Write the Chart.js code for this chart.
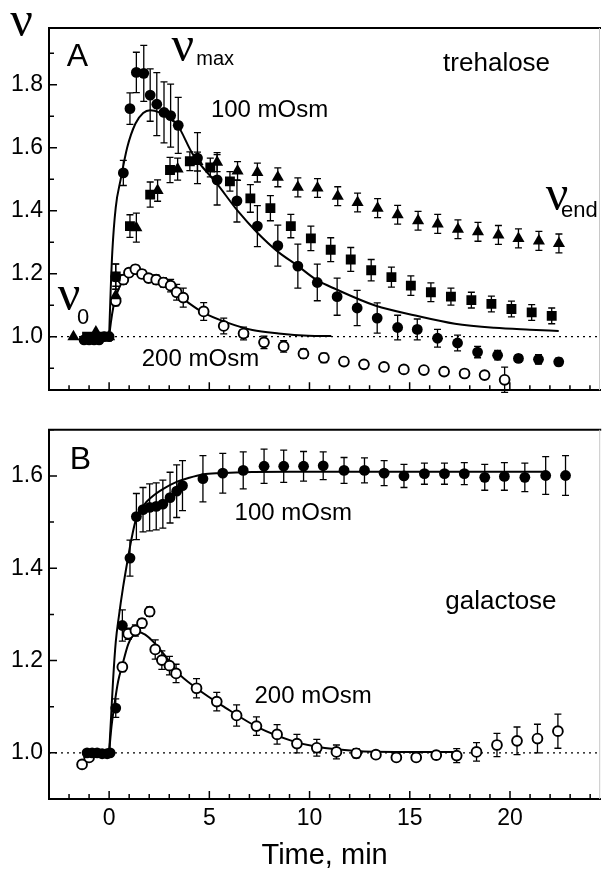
<!DOCTYPE html>
<html>
<head>
<meta charset="utf-8">
<script src="https://cdn.jsdelivr.net/npm/chart.js@4.4.0/dist/chart.umd.min.js"></script>
<style>
  html, body { margin: 0; padding: 0; background: #fff; }
  #wrap { position: relative; width: 607px; height: 875px; }
  canvas { position: absolute; left: 0; }
  #panelA { top: 0; }
  #panelB { top: 410px; }
</style>
</head>
<body>
<div id="wrap">
  <canvas id="panelA" width="607" height="410"></canvas>
  <canvas id="panelB" width="607" height="465"></canvas>
</div>
<script>
// axes
const xRange = [-3, 24.5]
const xTicks = [0, 5, 10, 15, 20]
const yRangeA = [0.83, 1.98]
const yTicksA = [1.0, 1.2, 1.4, 1.6, 1.8]
const yRangeB = [0.9, 1.7]
const yTicksB = [1.0, 1.2, 1.4, 1.6]
const refT = [-3, 24.5]
const refV = [1, 1]

// A: trehalose, 100 mOsm (filled circles)
const treh100T = [-1.25, -1.0, -0.75, -0.5, -0.25, 0, 0.33, 0.71, 1.04, 1.36, 1.73, 2.05, 2.38, 2.74, 3.07, 3.45,
  4.41, 5.39, 6.38, 7.40, 8.42, 9.42, 10.39, 11.38, 12.38, 13.38, 14.40, 15.38, 16.39, 17.39, 18.39, 19.39, 20.43, 21.43, 22.44]
const treh100V = [0.99, 0.99, 0.99, 0.99, 1.0, 1.0, 1.19, 1.52, 1.724, 1.839, 1.836, 1.767, 1.738, 1.712, 1.702, 1.671,
  1.567, 1.498, 1.431, 1.351, 1.289, 1.224, 1.172, 1.127, 1.091, 1.059, 1.029, 1.023, 0.995, 0.980, 0.951, 0.941, 0.931, 0.928, 0.920]
const treh100E = [0, 0, 0, 0, 0, 0, 0.04, 0.04, 0.05, 0.064, 0.089, 0.083, 0.10, 0.097, 0.10, 0.089,
  0.081, 0.08, 0.067, 0.065, 0.065, 0.07, 0.058, 0.059, 0.056, 0.048, 0.039, 0.033, 0.028, 0.025, 0.018, 0.015, 0.012, 0.015, 0.012]

// A: squares
const trehSqT = [-1.1, -0.6, -0.1, 0.33, 1.04, 2.05, 3.04, 4.03, 5.05, 6.03, 7.05, 8.05, 9.07, 10.07, 11.06, 12.06,
  13.08, 14.09, 15.06, 16.06, 17.06, 18.08, 19.08, 20.08, 21.09, 22.09]
const trehSqV = [1.0, 1.0, 1.0, 1.191, 1.351, 1.451, 1.529, 1.557, 1.537, 1.493, 1.439, 1.408, 1.351, 1.312, 1.276, 1.245,
  1.211, 1.189, 1.162, 1.141, 1.127, 1.116, 1.104, 1.088, 1.077, 1.066]
const trehSqE = [0, 0, 0, 0.04, 0.036, 0.04, 0.04, 0.03, 0.03, 0.031, 0.044, 0.04, 0.037, 0.039, 0.038, 0.038,
  0.034, 0.032, 0.031, 0.03, 0.027, 0.025, 0.025, 0.025, 0.025, 0.025]

// A: triangles
const trehTriT = [-1.78, -0.66, 0, 0.33, 1.36, 2.42, 3.42, 4.41, 5.39, 6.41, 7.40, 8.42, 9.42, 10.40, 11.41, 12.40,
  13.40, 14.40, 15.42, 16.40, 17.41, 18.41, 19.43, 20.43, 21.45, 22.45]
const trehTriV = [1.0, 1.015, 1.0, 1.13, 1.346, 1.464, 1.532, 1.556, 1.554, 1.526, 1.521, 1.506, 1.474, 1.472, 1.446, 1.426,
  1.408, 1.387, 1.368, 1.358, 1.341, 1.333, 1.323, 1.312, 1.304, 1.296]
const trehTriE = [0, 0, 0, 0.03, 0.046, 0.034, 0.035, 0.03, 0.03, 0.03, 0.03, 0.03, 0.03, 0.03, 0.03, 0.03,
  0.03, 0.03, 0.03, 0.03, 0.03, 0.03, 0.03, 0.03, 0.03, 0.03]

// A: trehalose, 200 mOsm (open circles)
const treh200T = [0.33, 0.71, 0.99, 1.31, 1.64, 1.97, 2.35, 2.71, 3.07, 3.37, 3.70, 4.72, 5.72, 6.71, 7.73, 8.71,
  9.70, 10.72, 11.72, 12.72, 13.72, 14.71, 15.71, 16.72, 17.74, 18.74, 19.74]
const treh200V = [1.113, 1.181, 1.203, 1.214, 1.199, 1.186, 1.181, 1.172, 1.162, 1.141, 1.124, 1.080, 1.034, 1.010, 0.982, 0.969,
  0.946, 0.933, 0.921, 0.912, 0.904, 0.896, 0.894, 0.889, 0.883, 0.878, 0.863]
const treh200E = [0.015, 0.015, 0.012, 0.012, 0.012, 0.012, 0.015, 0.015, 0.02, 0.025, 0.03, 0.028, 0.025, 0.02, 0.02, 0.018,
  0.015, 0.015, 0.012, 0.01, 0.01, 0.008, 0.008, 0.008, 0.008, 0.008, 0.04]

// A: fitted curves
const fitA100T = [0, 0.08, 0.16, 0.33, 0.58, 0.90, 1.31, 1.7, 2.05, 2.5, 3.0, 3.37, 4.19, 5.39, 6.41, 7.40, 8.42,
  9.37, 10.36, 11.34, 13.31, 15.29, 17.26, 19.23, 21.0, 22.44]
const fitA100V = [1.0, 1.15, 1.27, 1.41, 1.50, 1.60, 1.676, 1.71, 1.719, 1.712, 1.692, 1.676, 1.578, 1.485, 1.40, 1.33, 1.27,
  1.227, 1.18, 1.150, 1.098, 1.067, 1.041, 1.028, 1.022, 1.018]
const fitA200T = [0, 0.1, 0.2, 0.33, 0.5, 0.74, 1.0, 1.31, 1.9, 2.55, 3.1, 3.70, 4.68, 5.83, 7.15, 8.46, 9.94, 11.09]
const fitA200V = [1.0, 1.05, 1.09, 1.125, 1.155, 1.181, 1.195, 1.201, 1.195, 1.17, 1.145, 1.119, 1.077, 1.046, 1.021, 1.010, 1.003, 1.002]

// B: galactose, 100 mOsm (filled circles)
const gal100T = [-1.1, -0.85, -0.6, -0.35, -0.1, 0.05, 0.33, 0.66, 1.04, 1.36, 1.69, 2.02, 2.35, 2.68, 3.04, 3.37, 3.66,
  4.68, 5.67, 6.69, 7.73, 8.71, 9.70, 10.68, 11.72, 12.74, 13.72, 14.71, 15.73, 16.73, 17.72, 18.74, 19.72, 20.74, 21.78, 22.77]
const gal100V = [1.0, 1.0, 1.0, 0.998, 0.998, 1.0, 1.097, 1.276, 1.422, 1.512, 1.527, 1.532, 1.534, 1.539, 1.553, 1.567, 1.579,
  1.594, 1.606, 1.612, 1.621, 1.621, 1.621, 1.622, 1.612, 1.612, 1.606, 1.600, 1.605, 1.605, 1.605, 1.597, 1.599, 1.597, 1.601, 1.601]
const gal100E = [0, 0, 0, 0, 0, 0, 0.02, 0.034, 0.039, 0.05, 0.048, 0.051, 0.051, 0.052, 0.055, 0.057, 0.054,
  0.05, 0.043, 0.04, 0.037, 0.035, 0.032, 0.03, 0.028, 0.027, 0.027, 0.025, 0.023, 0.023, 0.024, 0.028, 0.03, 0.031, 0.041, 0.043]

// B: galactose, 200 mOsm (open circles)
const gal200T = [-1.35, -1.0, 0.66, 0.95, 1.31, 1.64, 2.02, 2.30, 2.63, 3.01, 3.34, 4.36, 5.37, 6.36, 7.35, 8.38,
  9.37, 10.36, 11.34, 12.33, 13.31, 14.33, 15.32, 16.32, 17.34, 18.33, 19.35, 20.35, 21.37, 22.39]
const gal200V = [0.975, 0.99, 1.186, 1.258, 1.265, 1.281, 1.306, 1.224, 1.201, 1.189, 1.172, 1.140, 1.111, 1.081, 1.058, 1.040,
  1.020, 1.011, 1.002, 0.999, 0.996, 0.990, 0.990, 0.995, 0.994, 1.002, 1.017, 1.026, 1.031, 1.047]
const gal200E = [0, 0, 0.01, 0.012, 0.012, 0.01, 0.01, 0.021, 0.02, 0.02, 0.02, 0.021, 0.02, 0.023, 0.02, 0.021,
  0.02, 0.018, 0.015, 0.01, 0.008, 0.008, 0.008, 0.008, 0.015, 0.02, 0.025, 0.03, 0.031, 0.037]

// B: fitted curves
const fitB100T = [0, 0.1, 0.2, 0.33, 0.49, 0.70, 0.90, 1.1, 1.31, 1.7, 2.14, 2.7, 3.37, 4.0, 4.68, 5.5, 6.66, 9.0, 12.0, 16.0, 21.8]
const fitB100V = [1.0, 1.08, 1.16, 1.24, 1.297, 1.36, 1.412, 1.46, 1.501, 1.535, 1.555, 1.572, 1.587, 1.596, 1.603, 1.606, 1.608,
  1.609, 1.609, 1.609, 1.609]
const fitB200T = [0, 0.1, 0.25, 0.45, 0.66, 0.95, 1.2, 1.48, 1.8, 2.22, 2.8, 3.37, 4.36, 5.83, 7.48, 9.12, 10.36, 12.33, 14.30, 17.34]
const fitB200V = [1.0, 1.05, 1.10, 1.155, 1.19, 1.235, 1.255, 1.262, 1.256, 1.240, 1.21, 1.176, 1.14, 1.097, 1.054, 1.026,
  1.013, 1.004, 1.002, 1.002]

const SANS = '"Liberation Sans", Arial, sans-serif'
const SERIF = '"Liberation Serif", "Times New Roman", serif'

const pts = (ts, vs) => ts.map((t, i) => ({ x: t, y: vs[i] }))

// vertical error bars with caps, under the markers
const errorBars = {
  id: 'errorBars',
  beforeDatasetsDraw(chart) {
    const { ctx, scales: { x, y } } = chart
    ctx.save()
    ctx.strokeStyle = '#000'
    ctx.lineWidth = 1.3
    chart.data.datasets.forEach((ds) => {
      if (!ds.errors) return
      ds.data.forEach((p, i) => {
        const e = ds.errors[i]
        if (!e) return
        const px = x.getPixelForValue(p.x)
        const top = y.getPixelForValue(p.y + e)
        const bot = y.getPixelForValue(p.y - e)
        ctx.beginPath()
        ctx.moveTo(px, top); ctx.lineTo(px, bot)
        ctx.moveTo(px - 3.5, top); ctx.lineTo(px + 3.5, top)
        ctx.moveTo(px - 3.5, bot); ctx.lineTo(px + 3.5, bot)
        ctx.stroke()
      })
    })
    ctx.restore()
  },
}

// top/right frame and inward tick marks
const frame = {
  id: 'frame',
  afterDraw(chart) {
    const { ctx, chartArea: a, scales: { x, y } } = chart
    ctx.save()
    ctx.strokeStyle = '#000'
    ctx.lineWidth = 2
    ctx.beginPath()
    ctx.moveTo(a.left - 1, a.top); ctx.lineTo(a.right + 1, a.top)
    ctx.stroke()
    ctx.strokeStyle = '#c8c8c8'
    ctx.lineWidth = 1
    ctx.beginPath()
    ctx.moveTo(a.right - 0.5, a.top); ctx.lineTo(a.right - 0.5, a.bottom)
    ctx.stroke()
    ctx.strokeStyle = '#000'
    ctx.lineWidth = 1.5
    ctx.beginPath()
    for (let t = Math.ceil(x.min); t <= x.max; t++) {
      const px = x.getPixelForValue(t)
      const len = t % 5 === 0 ? 8 : 5
      ctx.moveTo(px, a.bottom); ctx.lineTo(px, a.bottom - len)
    }
    for (let k = Math.ceil(y.min * 10); k <= Math.floor(y.max * 10); k++) {
      const py = y.getPixelForValue(k / 10)
      const len = k % 2 === 0 ? 8 : 5
      ctx.moveTo(a.left, py); ctx.lineTo(a.left + len, py)
    }
    ctx.stroke()
    ctx.restore()
  },
}

// text labels placed in data coordinates
const notes = {
  id: 'notes',
  afterDraw(chart, _args, options) {
    const { ctx, scales: { x, y } } = chart
    ctx.save()
    ctx.fillStyle = '#000'
    ctx.textBaseline = 'alphabetic'
    ctx.textAlign = 'left'
    for (const n of options.items || []) {
      ctx.font = n.font
      ctx.fillText(n.text, x.getPixelForValue(n.t), y.getPixelForValue(n.v))
    }
    ctx.restore()
  },
}

Chart.register(errorBars, frame, notes)

function scatterSet(ts, vs, es, style) {
  return {
    data: pts(ts, vs),
    errors: es,
    showLine: false,
    order: 0,
    ...style,
  }
}

function curveSet(ts, vs) {
  return {
    data: pts(ts, vs),
    showLine: true,
    pointRadius: 0,
    borderColor: '#000',
    borderWidth: 2,
    cubicInterpolationMode: 'monotone',
    order: 1,
  }
}

function refSet() {
  return {
    data: pts(refT, refV),
    showLine: true,
    pointRadius: 0,
    borderColor: '#000',
    borderWidth: 1.4,
    borderDash: [2, 4],
    order: 2,
  }
}

const filledCircle = { pointStyle: 'circle', pointRadius: 5.4, backgroundColor: '#000', borderColor: '#000', borderWidth: 0 }
const openCircle = { pointStyle: 'circle', pointRadius: 4.9, backgroundColor: '#fff', borderColor: '#000', borderWidth: 1.9 }
const filledSquare = { pointStyle: 'rect', pointRadius: 7, backgroundColor: '#000', borderColor: '#000', borderWidth: 0 }
const filledTriangle = { pointStyle: 'triangle', pointRadius: 7, backgroundColor: '#000', borderColor: '#000', borderWidth: 0 }

function buildPanel(canvasId, opts) {
  return new Chart(document.getElementById(canvasId), {
    type: 'scatter',
    data: { datasets: opts.datasets },
    options: {
      responsive: false,
      animation: false,
      devicePixelRatio: 1,
      layout: { padding: { left: 0, top: opts.padTop, right: 1, bottom: 0 } },
      plugins: {
        legend: { display: false },
        tooltip: { enabled: false },
        notes: { items: opts.notes },
      },
      scales: {
        x: {
          type: 'linear',
          min: xRange[0],
          max: xRange[1],
          afterBuildTicks: (s) => { s.ticks = xTicks.map((v) => ({ value: v })) },
          afterFit: (s) => { s.height = opts.xHeight },
          grid: { display: false, drawTicks: false },
          border: { display: true, color: '#000', width: 2 },
          ticks: {
            display: opts.xLabels,
            padding: 6,
            color: '#000',
            font: { family: SANS, size: 23 },
            callback: (v) => String(v),
          },
          title: {
            display: opts.xLabels,
            text: 'Time, min',
            color: '#000',
            font: { family: SANS, size: 29 },
            padding: { top: 0, bottom: 2 },
          },
        },
        y: {
          type: 'linear',
          min: opts.yRange[0],
          max: opts.yRange[1],
          afterBuildTicks: (s) => { s.ticks = opts.yTicks.map((v) => ({ value: v })) },
          afterFit: (s) => { s.width = 49 },
          grid: { display: false, drawTicks: false },
          border: { display: true, color: '#000', width: 2 },
          ticks: {
            padding: 6,
            color: '#000',
            font: { family: SANS, size: 23 },
            callback: (v) => v.toFixed(1),
          },
        },
      },
    },
  })
}

buildPanel('panelA', {
  padTop: 28,
  xHeight: 10,
  xLabels: false,
  yRange: yRangeA,
  yTicks: yTicksA,
  datasets: [
    refSet(),
    curveSet(fitA100T, fitA100V),
    curveSet(fitA200T, fitA200V),
    scatterSet(trehTriT, trehTriV, trehTriE, filledTriangle),
    scatterSet(trehSqT, trehSqV, trehSqE, filledSquare),
    scatterSet(treh100T, treh100V, treh100E, filledCircle),
    scatterSet(treh200T, treh200V, treh200E, openCircle),
  ],
  notes: [
    { text: 'ν', t: -4.93, v: 1.954, font: `50px ${SERIF}` },
    { text: 'A', t: -2.12, v: 1.858, font: `32px ${SANS}` },
    { text: 'ν', t: 3.11, v: 1.876, font: `50px ${SERIF}` },
    { text: 'max', t: 4.35, v: 1.861, font: `20px ${SANS}` },
    { text: '100 mOsm', t: 5.08, v: 1.697, font: `24px ${SANS}` },
    { text: 'trehalose', t: 16.67, v: 1.842, font: `26px ${SANS}` },
    { text: 'ν', t: 21.79, v: 1.402, font: `50px ${SERIF}` },
    { text: 'end', t: 22.55, v: 1.381, font: `22px ${SANS}` },
    { text: 'ν', t: -2.56, v: 1.084, font: `50px ${SERIF}` },
    { text: '0', t: -1.6, v: 1.040, font: `22px ${SANS}` },
    { text: '200 mOsm', t: 1.63, v: 0.907, font: `24px ${SANS}` },
  ],
})

buildPanel('panelB', {
  padTop: 16,
  xHeight: 76,
  xLabels: true,
  yRange: yRangeB,
  yTicks: yTicksB,
  datasets: [
    refSet(),
    curveSet(fitB100T, fitB100V),
    curveSet(fitB200T, fitB200V),
    scatterSet(gal100T, gal100V, gal100E, filledCircle),
    scatterSet(gal200T, gal200V, gal200E, openCircle),
  ],
  notes: [
    { text: 'B', t: -1.97, v: 1.615, font: `32px ${SANS}` },
    { text: '100 mOsm', t: 6.26, v: 1.504, font: `24px ${SANS}` },
    { text: 'galactose', t: 16.77, v: 1.311, font: `26px ${SANS}` },
    { text: '200 mOsm', t: 7.25, v: 1.107, font: `24px ${SANS}` },
  ],
})
</script>
</body>
</html>
